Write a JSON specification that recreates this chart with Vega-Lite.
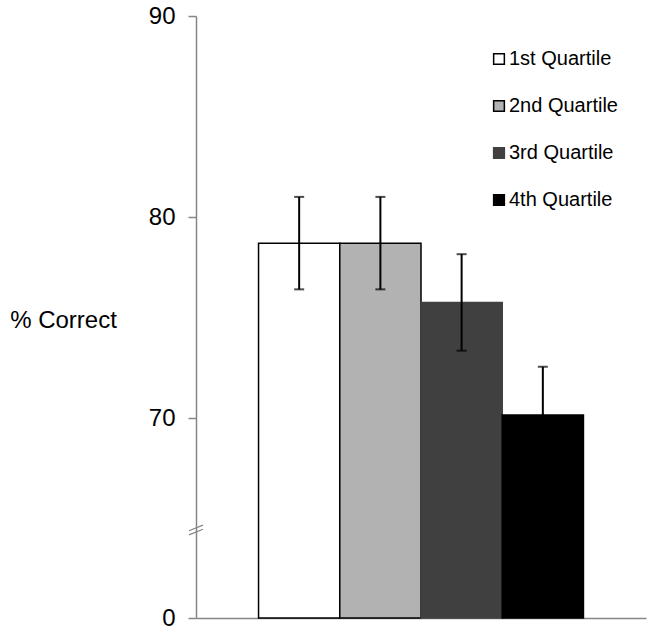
{
  "$schema": "https://vega.github.io/schema/vega-lite/v6.json",
  "width": 450,
  "height": 602,
  "padding": {"left": 9, "top": 4, "right": 7, "bottom": 5},
  "background": "white",
  "config": {
    "view": {"stroke": null},
    "font": "Liberation Sans",
    "axis": {
      "grid": false,
      "domainColor": "#868686",
      "tickColor": "#868686",
      "domainWidth": 1.5,
      "tickWidth": 1.5,
      "labelFont": "Liberation Sans",
      "titleFont": "Liberation Sans",
      "labelColor": "black",
      "titleColor": "black"
    }
  },
  "datasets": {
    "bars": [
      {"quartile": "1st Quartile", "pct": 78.7, "lo": 76.4, "hi": 81.0},
      {"quartile": "2nd Quartile", "pct": 78.7, "lo": 76.4, "hi": 81.0},
      {"quartile": "3rd Quartile", "pct": 75.75, "lo": 73.35, "hi": 78.15},
      {"quartile": "4th Quartile", "pct": 70.15, "lo": 67.75, "hi": 72.55}
    ],
    "brk": [{"xpos": 0, "ybreak": 30.8}]
  },
  "layer": [
    {
      "data": {"name": "bars"},
      "layer": [
        {
          "mark": {"type": "bar", "strokeWidth": 1.5},
          "encoding": {
            "x": {"field": "quartile", "type": "nominal", "sort": null,
              "scale": {"paddingInner": 0, "paddingOuter": 0.77},
              "axis": {"labels": false, "ticks": false, "title": null, "domain": true}},
            "y": {"field": "pct", "type": "quantitative",
              "scale": {"domain": [0, 70, 90], "range": [602, 402, 0], "clamp": true},
              "axis": {"values": [0, 70, 80, 90], "tickSize": 8, "labelFontSize": 24, "labelPadding": 13,
                "title": "% Correct", "titleAngle": 0, "titleFontSize": 24, "titleFontWeight": "normal",
                "titleAlign": "center", "titleBaseline": "middle", "titleX": -133, "titleY": 304}},
            "fill": {"field": "quartile", "type": "nominal", "sort": null,
              "scale": {"range": ["#ffffff", "#b2b2b2", "#404040", "#000000"]},
              "legend": {"title": null, "orient": "none", "legendX": 293, "legendY": 33, "labelFontSize": 20,
                "labelFont": "Liberation Sans", "symbolType": "square", "symbolSize": 115,
                "rowPadding": 27, "labelOffset": 0, "symbolStrokeWidth": 1.5}},
            "stroke": {"field": "quartile", "type": "nominal", "sort": null,
              "scale": {"range": ["#000000", "#000000", "#404040", "#000000"]},
              "legend": {"title": null, "orient": "none", "legendX": 293, "legendY": 33, "labelFontSize": 20,
                "labelFont": "Liberation Sans", "symbolType": "square", "symbolSize": 115,
                "rowPadding": 27, "labelOffset": 0, "symbolStrokeWidth": 1.5}}
          }
        },
        {
          "mark": {"type": "rule", "color": "black", "strokeWidth": 2},
          "encoding": {
            "x": {"field": "quartile", "type": "nominal", "sort": null},
            "y": {"field": "lo", "type": "quantitative"},
            "y2": {"field": "hi"}
          }
        },
        {
          "mark": {"type": "tick", "color": "black", "orient": "horizontal", "size": 10, "thickness": 2},
          "encoding": {
            "x": {"field": "quartile", "type": "nominal", "sort": null},
            "y": {"field": "hi", "type": "quantitative"}
          }
        },
        {
          "mark": {"type": "tick", "color": "black", "orient": "horizontal", "size": 10, "thickness": 2},
          "encoding": {
            "x": {"field": "quartile", "type": "nominal", "sort": null},
            "y": {"field": "lo", "type": "quantitative"}
          }
        }
      ]
    },
    {
      "data": {"name": "brk"},
      "mark": {"type": "point", "filled": false, "shape": "M-1,0.1L1,-0.7M-1,0.7L1,-0.1", "size": 196, "stroke": "#868686", "strokeWidth": 1.2, "opacity": 1},
      "encoding": {
        "x": {"field": "xpos", "type": "quantitative", "scale": {"domain": [0, 1]}, "axis": null},
        "y": {"field": "ybreak", "type": "quantitative"}
      }
    }
  ],
  "resolve": {"scale": {"x": "independent"}}
}
